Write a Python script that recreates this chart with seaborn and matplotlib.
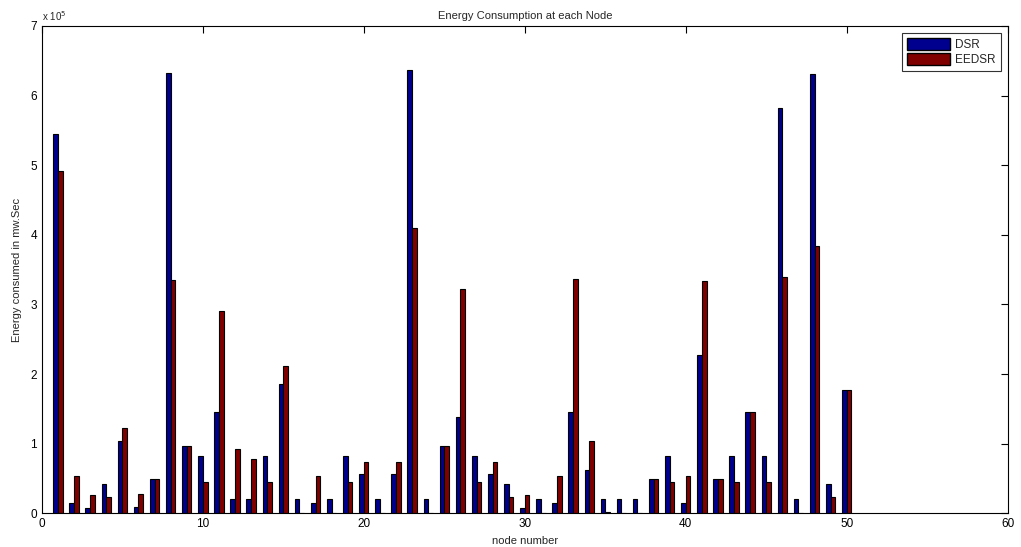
import numpy as np
import pandas as pd
import matplotlib
matplotlib.use("Agg")
import matplotlib.pyplot as plt
import seaborn as sns
from matplotlib.patches import Patch

# energy per node, in units of 1e5 mW.Sec
nodes = list(range(1, 51))
dsr = [5.45, 0.15, 0.08, 0.42, 1.04, 0.085, 0.49, 6.32, 0.96, 0.83,
       1.45, 0.21, 0.21, 0.83, 1.86, 0.21, 0.15, 0.21, 0.83, 0.56,
       0.21, 0.56, 6.37, 0.21, 0.96, 1.38, 0.83, 0.56, 0.42, 0.08,
       0.21, 0.15, 1.45, 0.62, 0.21, 0.21, 0.21, 0.49, 0.83, 0.15,
       2.28, 0.49, 0.83, 1.45, 0.83, 5.82, 0.21, 6.31, 0.42, 1.77]
eedsr = [4.92, 0.53, 0.27, 0.23, 1.22, 0.28, 0.49, 3.35, 0.96, 0.45,
         2.91, 0.92, 0.78, 0.45, 2.12, 0.0, 0.53, 0.0, 0.45, 0.74,
         0.0, 0.74, 4.10, 0.0, 0.96, 3.22, 0.45, 0.74, 0.23, 0.27,
         0.0, 0.53, 3.37, 1.04, 0.015, 0.0, 0.0, 0.49, 0.45, 0.53,
         3.33, 0.49, 0.45, 1.45, 0.45, 3.39, 0.0, 3.84, 0.23, 1.77]
series = ["DSR", "EEDSR"]
colors = {"DSR": "#00008f", "EEDSR": "#800000"}

df = pd.DataFrame({
    "node": nodes * 2,
    "energy": [v * 1e5 for v in dsr + eedsr],
    "protocol": ["DSR"] * len(nodes) + ["EEDSR"] * len(nodes),
})

sns.set_style("white")
plt.rcParams["font.family"] = ["Liberation Sans", "DejaVu Sans"]

fig = plt.figure(figsize=(10.21, 5.47), dpi=100)
ax = fig.add_axes([0.041, 0.0616, 0.946, 0.891])

sns.barplot(data=df, x="node", y="energy", hue="protocol", hue_order=series,
            palette=colors, native_scale=True, width=0.58, gap=0,
            errorbar=None, edgecolor="black", linewidth=0.8, saturation=1,
            ax=ax)

ax.set_xlim(0, 60)
ax.set_ylim(0, 7e5)
ax.set_xticks(range(0, 61, 10))
ax.set_xticklabels([str(t) for t in range(0, 61, 10)])
ax.set_yticks([i * 1e5 for i in range(8)])
ax.set_yticklabels([str(i) for i in range(8)])
ax.tick_params(direction="in", top=True, right=True, length=5,
               labelsize=8.5, width=0.8, colors="black")
for s in ax.spines.values():
    s.set_color("black")
    s.set_linewidth(0.8)

ax.text(0.0, 1.005, r"x 10$^5$", transform=ax.transAxes, fontsize=7,
        ha="left", va="bottom")
ax.set_title("Energy Consumption at each Node", fontsize=8, pad=5)
ax.set_xlabel("node number", fontsize=8, labelpad=4)
ax.set_ylabel("Energy consumed in mw.Sec", fontsize=8, labelpad=6)

handles = [Patch(facecolor=colors[s], edgecolor="black", label=s) for s in series]
leg = ax.legend(handles=handles, loc="upper right", fontsize=8.5,
                handlelength=3.6, handleheight=1.2, frameon=True, fancybox=False,
                borderaxespad=0.6, handletextpad=0.5, labelspacing=0.2,
                edgecolor="black")
leg.get_frame().set_linewidth(0.8)

fig.savefig("out.png", dpi=100)
